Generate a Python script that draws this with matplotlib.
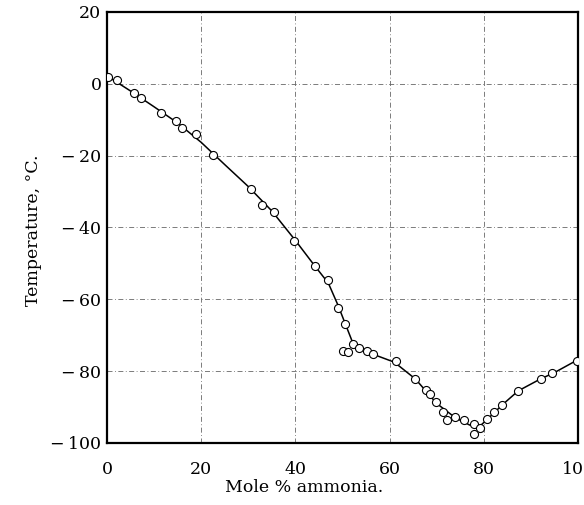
import matplotlib
matplotlib.use("Agg")
import matplotlib.pyplot as plt

# measured points (mole % ammonia, temperature in deg C)
pts_x = [0.3, 2.2, 5.7, 7.2, 11.5, 14.6, 16.0, 19.0, 22.6, 30.6, 33.0, 35.4,
         39.7, 44.1, 46.9, 49.0, 50.6, 50.2, 51.2, 52.2, 53.6, 55.1, 56.5,
         61.3, 65.5, 67.7, 68.6, 69.8, 71.4, 72.2, 73.9, 75.8, 77.9, 77.9,
         79.2, 80.6, 82.2, 83.9, 87.3, 92.1, 94.5, 99.7]
pts_y = [1.8, 1.0, -2.5, -4.0, -8.2, -10.4, -12.2, -14.1, -19.9, -29.2, -33.7, -35.8,
         -43.7, -50.6, -54.7, -62.4, -66.9, -74.4, -74.6, -72.5, -73.5, -74.4, -75.3,
         -77.2, -82.2, -85.3, -86.5, -88.6, -91.3, -93.6, -92.7, -93.6, -94.6, -97.6,
         -95.7, -93.4, -91.3, -89.3, -85.5, -82.2, -80.4, -77.1]

# drawn curve
curve_x = [0, 5, 10, 15, 20, 25, 30, 35, 40, 44, 47, 49, 50.5, 52, 54, 56.5,
           61, 65.5, 70, 74, 77, 79, 80.6, 84, 87.3, 92, 95, 100]
curve_y = [2.2, -2.0, -6.4, -10.9, -16.3, -22.5, -28.6, -35.4, -43.6, -50.5, -55.5,
           -61.5, -66.5, -71.5, -73.6, -75.3, -77.5, -82.2, -89.0, -93.0, -95.0,
           -95.5, -93.6, -89.3, -85.5, -82.2, -80.4, -76.8]

x_ticks = [0, 20, 40, 60, 80, 100]
y_ticks = [20, 0, -20, -40, -60, -80, -100]
y_tick_labels = ["20", "0", "\u2212\u200920", "\u2212\u200940", "\u2212\u200960",
                 "\u2212\u200980", "\u2212\u2009100"]

plt.rcParams["font.family"] = ["DejaVu Serif"]

fig = plt.figure(figsize=(5.84, 5.05), dpi=100)
ax = fig.add_axes([0.1832, 0.1228, 0.8065, 0.8535])

ax.plot(curve_x, curve_y, color="black", linewidth=1.1, zorder=2)
ax.plot(pts_x, pts_y, linestyle="none", marker="o", markersize=5.8,
        markerfacecolor="white", markeredgecolor="black", markeredgewidth=0.8,
        zorder=3)

# dash-dot grid at every tick inside the frame
for gx in [20, 40, 60, 80]:
    ax.axvline(gx, color="0.4", linewidth=0.6, dashes=(6, 3, 1, 3), zorder=1)
for gy in [0, -20, -40, -60, -80]:
    ax.axhline(gy, color="0.4", linewidth=0.6, dashes=(6, 3, 1, 3), zorder=1)

ax.set_xlim(0, 100)
ax.set_ylim(-100, 20)
ax.set_xticks(x_ticks)
ax.set_xticklabels([str(t) for t in x_ticks])
ax.set_yticks(y_ticks)
ax.set_yticklabels(y_tick_labels)
ax.tick_params(axis="both", length=0, labelsize=12.5)
ax.tick_params(axis="x", pad=13)
ax.tick_params(axis="y", pad=4)

for side in ["left", "right", "top", "bottom"]:
    ax.spines[side].set_linewidth(1.6)

fig.text(0.52, 0.035, "Mole % ammonia.", fontsize=12.5, ha="center", va="center")
fig.text(0.058, 0.545, "Temperature, \u00b0C.", fontsize=12.5, rotation=90,
         ha="center", va="center")

fig.savefig("out.png", dpi=100)
